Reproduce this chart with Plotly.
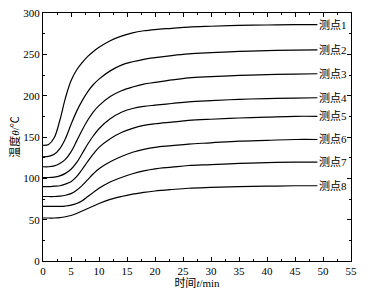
import plotly.graph_objects as go

t = [0, 1, 2, 3, 4, 5, 6, 7, 8, 9, 10, 12, 14, 16, 18, 20, 23, 26, 30, 35, 40, 45, 49]

p1 = [140, 141, 149, 170, 197, 218, 231, 240, 247.5, 253.5, 258.5, 266.5, 272, 276, 278.5, 280, 281.5, 283, 284, 285, 285.5, 286, 286]
p2 = [126, 126.5, 129, 136, 148, 165, 181, 194, 205, 213.5, 220, 230, 237, 241, 244, 246, 248.5, 250.5, 252, 253.5, 254.5, 255, 255.5]
p3 = [114, 114, 115, 118, 123, 132, 145, 158.5, 170.5, 180.5, 188, 199, 206, 210.5, 214, 216, 219, 221.5, 223, 224.5, 225.5, 226, 226.5]
p4 = [101, 101, 101.5, 103, 106, 111, 119, 130, 141.5, 151.5, 160, 172, 180, 184.5, 187, 188.5, 190.5, 192.5, 194, 195.5, 196.5, 197, 197.5]
p5 = [90, 90, 90.5, 91, 93, 96, 102, 111, 120.5, 129.5, 137.5, 148, 155.5, 160.5, 164, 166, 168, 170, 171.5, 173, 174, 175, 175]
p6 = [78, 78, 78, 78.5, 79.5, 81.5, 85.5, 91.5, 98.5, 105.5, 111.5, 120, 126.5, 131.5, 135, 137.5, 139.5, 141.5, 143, 145, 146, 147, 147]
p7 = [66, 66, 66, 66, 66.5, 67.5, 69.5, 73, 78, 83, 88, 95.5, 101, 105.5, 109, 111.5, 113.5, 115.5, 116.5, 118, 119, 119.5, 119.5]
p8 = [52, 52, 52, 52.5, 53.5, 55, 57.5, 60.5, 63.5, 66.5, 69.5, 74.5, 78, 80.8, 83, 84.7, 86.5, 88, 89, 90, 90.5, 91, 91]

series = [p1, p2, p3, p4, p5, p6, p7, p8]
labels = ["测点1", "测点2", "测点3", "测点4", "测点5", "测点6", "测点7", "测点8"]

FONT = "Times New Roman, Liberation Serif, Noto Sans CJK SC, serif"

fig = go.Figure()
for s, lab in zip(series, labels):
    fig.add_trace(go.Scatter(x=t, y=s, mode="lines", name=lab,
                             line=dict(color="black", width=1.2, shape="spline", smoothing=1.0),
                             showlegend=False))
    fig.add_annotation(x=t[-1], y=s[-1], text=lab, showarrow=False,
                       xanchor="left", yanchor="middle", xshift=0,
                       font=dict(family=FONT, size=11, color="black"))

axis_common = dict(showline=True, linecolor="black", linewidth=1, mirror="ticks",
                   ticks="inside", ticklen=4, tickcolor="black", tickwidth=1,
                   showgrid=False, zeroline=False, automargin=False,
                   ticklabeloverflow="allow",
                   tickfont=dict(family=FONT, size=11, color="black"))

fig.update_xaxes(range=[0, 55], dtick=5, tick0=0,
                 minor=dict(ticks="inside", ticklen=2, dtick=2.5, tickcolor="black"),
                 title=dict(text="时间<i>t</i>/min", font=dict(family=FONT, size=11, color="black"), standoff=2),
                 **axis_common)
fig.update_yaxes(range=[0, 300], dtick=50, tick0=0,
                 minor=dict(ticks="inside", ticklen=2, dtick=25, tickcolor="black"),
                 title=dict(text="温度<i>θ</i>/℃", font=dict(family=FONT, size=11, color="black"), standoff=4),
                 **axis_common)

fig.update_layout(width=362, height=288, margin=dict(l=35, r=19, t=5, b=35),
                  plot_bgcolor="white", paper_bgcolor="white",
                  font=dict(family=FONT, size=11, color="black"))

fig.write_html("out.html")
